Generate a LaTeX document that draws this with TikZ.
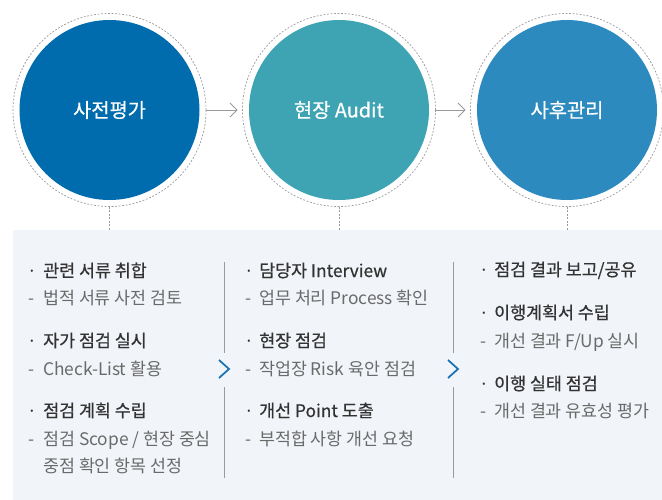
\documentclass[tikz,border=0pt]{standalone}
\usepackage{fontspec}
\setmainfont{Noto Sans CJK KR}
\newfontfamily\krgulge[FakeBold=0.6]{Noto Sans CJK KR}
\usetikzlibrary{arrows.meta}

\definecolor{jinparang}{HTML}{006BAD}
\definecolor{cheongrok}{HTML}{3EA4B3}
\definecolor{parang}{HTML}{2C8ABE}
\definecolor{baegyeong}{HTML}{F1F4F8}
\definecolor{hoesaek}{HTML}{9A9A9A}
\definecolor{geulja}{HTML}{333333}
\definecolor{yeongeulja}{HTML}{6A6A6A}
\definecolor{gireum}{HTML}{1A72B6}

\begin{document}
\begin{tikzpicture}[
  x=0.03cm, y=-0.03cm,
  won/.style={circle, inner sep=0pt, minimum size=5.4cm, text=white,
    font=\krgulge\fontsize{16.9pt}{20pt}\selectfont},
  teduri/.style={circle, draw=hoesaek, line width=0.6pt, dash pattern=on 1.6pt off 1.4pt,
    inner sep=0pt, minimum size=5.79cm},
  hwasal/.style={draw=hoesaek, line width=0.8pt, -{Straight Barb[length=6pt, width=12pt]},
    shorten >=0.135cm},
  jeomseon/.style={draw=hoesaek, line width=0.6pt, dash pattern=on 1.6pt off 1.4pt},
  gubun/.style={draw=hoesaek, line width=0.7pt},
  gamae/.style={draw=gireum, line width=1.5pt},
  hangmok/.style={anchor=base west, inner sep=0pt, text=geulja,
    font=\krgulge\fontsize{14.8pt}{18pt}\selectfont},
  seolmyeong/.style={anchor=base west, inner sep=0pt, text=yeongeulja,
    font=\fontsize{14.8pt}{18pt}\selectfont},
  pyo/.style={anchor=base, inner sep=0pt, text=yeongeulja,
    font=\fontsize{14.8pt}{18pt}\selectfont}
]
\useasboundingbox (0,0) rectangle (662,500);

%--------------------------------------------------------------
% 바탕 패널
%--------------------------------------------------------------
\node[fill=baegyeong, inner sep=0pt, anchor=north west,
  minimum width=19.47cm, minimum height=8.1cm] (panel) at (13,230) {};

%--------------------------------------------------------------
% 단계 원: 사전평가, 현장 Audit, 사후관리
%--------------------------------------------------------------
\node[teduri] (teduri1) at (109.5,110) {};
\node[teduri] (teduri2) at (339,110) {};
\node[teduri] (teduri3) at (567,110) {};
\node[won, fill=jinparang] (won1) at (109.5,110) {사전평가};
\node[won, fill=cheongrok] (won2) at (339,110) {현장 Audit};
\node[won, fill=parang] (won3) at (567,110) {사후관리};

% 단계 사이 화살표
\draw[hwasal] (teduri1) -- (teduri2);
\draw[hwasal] (teduri2) -- (teduri3);

% 원에서 패널로 내려오는 점선
\draw[jeomseon] (teduri1.south) -- (teduri1.south |- panel.north);
\draw[jeomseon] (teduri2.south) -- (teduri2.south |- panel.north);
\draw[jeomseon] (teduri3.south) -- (teduri3.south |- panel.north);

%--------------------------------------------------------------
% 열 구분선과 꺾쇠
%--------------------------------------------------------------
\coordinate (gu1a) at (224,262);
\coordinate (gu1b) at (224,353);
\coordinate (gu1c) at (224,387);
\coordinate (gu1d) at (224,478);
\draw[gubun] (gu1a) -- (gu1b);
\draw[gubun] (gu1c) -- (gu1d);
\draw[gamae] (219,360) -- (229,369) -- (219,378);

\coordinate (gu2a) at (453,262);
\coordinate (gu2b) at (453,353);
\coordinate (gu2c) at (453,387);
\coordinate (gu2d) at (453,478);
\draw[gubun] (gu2a) -- (gu2b);
\draw[gubun] (gu2c) -- (gu2d);
\draw[gamae] (448,360) -- (458,369) -- (448,378);

%--------------------------------------------------------------
% 사전평가 항목
%--------------------------------------------------------------
\node[pyo, text=geulja] at (32,277) {·};
\node[hangmok] (ga1) at (43,277) {관련 서류 취합};
\node[pyo] at (32,304) {-};
\node[seolmyeong] (ga1s) at (43,304) {법적 서류 사전 검토};
\node[pyo, text=geulja] at (32,347) {·};
\node[hangmok] (ga2) at (43,347) {자가 점검 실시};
\node[pyo] at (32,375) {-};
\node[seolmyeong] (ga2s) at (43,375) {Check-List 활용};
\node[pyo, text=geulja] at (32,417) {·};
\node[hangmok] (ga3) at (43,417) {점검 계획 수립};
\node[pyo] at (32,445) {-};
\node[seolmyeong] (ga3s) at (43,445) {점검 Scope / 현장 중심};
\node[seolmyeong] (ga3t) at (43,472) {중점 확인 항목 선정};

%--------------------------------------------------------------
% 현장 Audit 항목
%--------------------------------------------------------------
\node[pyo, text=geulja] at (249,277) {·};
\node[hangmok] (na1) at (259,277) {담당자 Interview};
\node[pyo] at (249,304) {-};
\node[seolmyeong] (na1s) at (259,304) {업무 처리 Process 확인};
\node[pyo, text=geulja] at (249,347) {·};
\node[hangmok] (na2) at (259,347) {현장 점검};
\node[pyo] at (249,375) {-};
\node[seolmyeong] (na2s) at (259,375) {작업장 Risk 육안 점검};
\node[pyo, text=geulja] at (249,417) {·};
\node[hangmok] (na3) at (259,417) {개선 Point 도출};
\node[pyo] at (249,445) {-};
\node[seolmyeong] (na3s) at (259,445) {부적합 사항 개선 요청};

%--------------------------------------------------------------
% 사후관리 항목
%--------------------------------------------------------------
\node[pyo, text=geulja] at (484,276) {·};
\node[hangmok] (da1) at (494,276) {점검 결과 보고/공유};
\node[pyo, text=geulja] at (484,319) {·};
\node[hangmok] (da2) at (494,319) {이행계획서 수립};
\node[pyo] at (484,347) {-};
\node[seolmyeong] (da2s) at (494,347) {개선 결과 F/Up 실시};
\node[pyo, text=geulja] at (484,390) {·};
\node[hangmok] (da3) at (494,390) {이행 실태 점검};
\node[pyo] at (484,417) {-};
\node[seolmyeong] (da3s) at (494,417) {개선 결과 유효성 평가};

\end{tikzpicture}
\end{document}
